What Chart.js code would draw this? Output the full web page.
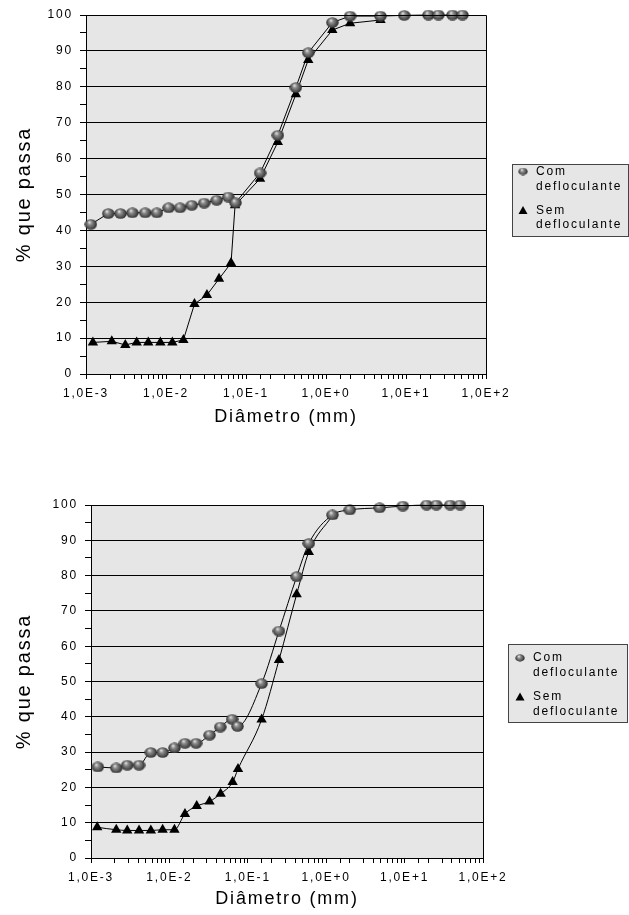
<!DOCTYPE html>
<html>
<head>
<meta charset="utf-8">
<script src="https://cdn.jsdelivr.net/npm/chart.js@4.4.1/dist/chart.umd.min.js"></script>
<style>
body { margin: 0; background: #fff; width: 629px; height: 915px; position: relative; overflow: hidden; }
canvas { position: absolute; left: 0; }
#c1 { top: 0; }
#c2 { top: 455px; }
</style>
</head>
<body>
<canvas id="c1" width="629" height="430"></canvas>
<canvas id="c2" width="629" height="460"></canvas>
<script>
// sample 1 (top chart)
const diamCom1 = [0.00115, 0.0019, 0.0027, 0.0038, 0.0055, 0.0077, 0.0108, 0.015, 0.021, 0.030, 0.043, 0.060, 0.074, 0.15, 0.25, 0.42, 0.6, 1.2, 2.0, 4.8, 9.5, 19.1, 25.4, 38.1, 50.8];
const pctCom1 = [41.7, 44.7, 44.7, 44.9, 44.9, 44.9, 46.3, 46.3, 47.0, 47.6, 48.4, 49.3, 47.7, 56.0, 66.5, 79.8, 89.5, 97.9, 99.7, 99.7, 99.9, 100, 100, 100, 100];
const diamSem1 = [0.00122, 0.0021, 0.0031, 0.0043, 0.006, 0.0085, 0.012, 0.0165, 0.0227, 0.0325, 0.046, 0.065, 0.073, 0.15, 0.25, 0.42, 0.6, 1.2, 2.0, 4.8];
const pctSem1 = [8.8, 9.1, 8.1, 8.8, 8.8, 8.8, 8.8, 9.5, 19.5, 22.0, 26.5, 30.9, 47.0, 54.4, 64.6, 77.9, 87.5, 95.8, 97.7, 98.6];

// sample 2 (bottom chart)
const diamCom2 = [0.00122, 0.0021, 0.0029, 0.0041, 0.0058, 0.0082, 0.0116, 0.0158, 0.0219, 0.0325, 0.0446, 0.063, 0.074, 0.15, 0.25, 0.42, 0.6, 1.2, 2.0, 4.8, 9.5, 19.1, 25.4, 38.1, 50.8];
const pctCom2 = [25.8, 25.5, 26.3, 26.3, 29.9, 29.9, 31.2, 32.5, 32.5, 34.8, 37.1, 39.3, 37.3, 49.4, 64.3, 79.7, 89.1, 97.2, 98.6, 99.2, 99.7, 100, 100, 100, 100];
const diamSem2 = [0.0012, 0.0021, 0.0029, 0.0041, 0.0058, 0.0082, 0.0116, 0.0158, 0.0223, 0.0325, 0.045, 0.064, 0.075, 0.15, 0.25, 0.42, 0.6, 1.2];
const pctSem2 = [8.7, 8.0, 7.8, 7.8, 7.8, 8.0, 8.0, 12.5, 14.7, 16.0, 18.2, 21.5, 25.2, 39.2, 56.1, 74.7, 86.7, 97.0];

const seriesNames = ['Com defloculante', 'Sem defloculante'];
const xTitle = 'Diâmetro (mm)';
const yTitle = '% que passa';

const FONT = "'Liberation Sans', Arial, Helvetica, sans-serif";

// little shaded ball used as point marker
function makeSphere(w, h) {
    const c = document.createElement('canvas');
    c.width = w; c.height = h;
    const g = c.getContext('2d');
    const grad = g.createRadialGradient(w * 0.38, h * 0.3, 0.3, w / 2, h / 2, w / 2);
    grad.addColorStop(0, '#e0e0e0');
    grad.addColorStop(0.3, '#8a8a8a');
    grad.addColorStop(0.7, '#4e4e4e');
    grad.addColorStop(1, '#1e1e1e');
    g.fillStyle = grad;
    g.beginPath();
    g.ellipse(w / 2, h / 2, w / 2 - 0.3, h / 2 - 0.3, 0, 0, Math.PI * 2);
    g.fill();
    return c;
}
const sphere = makeSphere(13, 11);
const sphereSmall = makeSphere(10, 8);

function pts(xs, ys) {
    return xs.map((x, i) => ({ x: x, y: ys[i] }));
}

function sciLabel(v) {
    const l = Math.log10(v);
    const e = Math.round(l);
    if (Math.abs(l - e) > 1e-6) return '';
    return '1,0E' + (e >= 0 ? '+' : '-') + Math.abs(e);
}

const framePlugin = {
    id: 'frame',
    beforeDraw(chart) {
        const ctx = chart.ctx, a = chart.chartArea;
        ctx.letterSpacing = '1.8px';
        ctx.save();
        ctx.fillStyle = '#e6e6e6';
        ctx.fillRect(a.left, a.top, a.right - a.left, a.bottom - a.top);
        ctx.restore();
    },
    afterDraw(chart, args, opts) {
        const ctx = chart.ctx, a = chart.chartArea;
        ctx.save();
        ctx.strokeStyle = '#000';
        ctx.lineWidth = 1;
        ctx.beginPath();
        ctx.moveTo(a.left, Math.round(a.top) + 0.5);
        ctx.lineTo(Math.round(a.right) + 0.5, Math.round(a.top) + 0.5);
        ctx.lineTo(Math.round(a.right) + 0.5, a.bottom);
        ctx.stroke();

        // legend box
        const L = opts.legend;
        ctx.fillStyle = '#e6e6e6';
        ctx.fillRect(L.x, L.y, L.w, L.h);
        ctx.strokeStyle = '#444';
        ctx.strokeRect(L.x + 0.5, L.y + 0.5, L.w - 1, L.h - 1);
        ctx.font = '12px ' + FONT;
        ctx.fillStyle = '#000';
        ctx.textAlign = 'left';
        ctx.textBaseline = 'middle';
        seriesNames.forEach((name, i) => {
            const sp = name.indexOf(' ');
            ctx.fillText(name.slice(0, sp), L.tx, L.rows[i * 2]);
            ctx.fillText(name.slice(sp + 1), L.tx, L.rows[i * 2 + 1]);
        });
        ctx.drawImage(sphereSmall, L.mx - 5, L.rows[0] - 4);
        const ty = L.rows[2];
        ctx.beginPath();
        ctx.moveTo(L.mx, ty - 4.5);
        ctx.lineTo(L.mx + 4.5, ty + 3.5);
        ctx.lineTo(L.mx - 4.5, ty + 3.5);
        ctx.closePath();
        ctx.fill();
        ctx.restore();
    }
};

function makeChart(id, cfg) {
    return new Chart(document.getElementById(id), {
        type: 'line',
        data: {
            datasets: [{
                label: seriesNames[0],
                data: pts(cfg.dCom, cfg.pCom),
                borderColor: '#000',
                borderWidth: 1,
                pointStyle: sphere,
                pointRadius: 6,
                clip: false,
                cubicInterpolationMode: cfg.smooth ? 'monotone' : 'default'
            }, {
                label: seriesNames[1],
                data: pts(cfg.dSem, cfg.pSem),
                borderColor: '#000',
                backgroundColor: '#000',
                borderWidth: 1,
                pointStyle: 'triangle',
                pointRadius: 6,
                pointBorderWidth: 0,
                clip: false,
                cubicInterpolationMode: cfg.smooth ? 'monotone' : 'default'
            }]
        },
        options: {
            responsive: false,
            animation: false,
            layout: { padding: { top: cfg.top, right: 629 - cfg.right, bottom: 0, left: 0 } },
            plugins: {
                legend: { display: false },
                tooltip: { enabled: false },
                frame: { legend: cfg.legend }
            },
            scales: {
                x: {
                    type: 'logarithmic',
                    min: 0.001,
                    max: 100,
                    afterFit: s => { s.height = cfg.xh; },
                    border: { display: true, color: '#000', width: 1 },
                    grid: { drawOnChartArea: false, drawTicks: true, tickLength: 5, tickColor: '#000' },
                    ticks: {
                        autoSkip: false, maxRotation: 0, minRotation: 0, padding: 7,
                        color: '#000', font: { family: FONT, size: 12 },
                        callback: v => sciLabel(v)
                    },
                    title: {
                        display: true, text: xTitle, color: '#000',
                        font: { family: FONT, size: 18 },
                        padding: { top: 0, bottom: cfg.titlePad }
                    }
                },
                y: {
                    min: 0,
                    max: 100,
                    afterFit: s => { s.width = cfg.left; },
                    border: { display: true, color: '#000', width: 1 },
                    grid: {
                        color: c => (c.tick && c.tick.value % 10 === 0 && c.tick.value > 0) ? '#000' : 'rgba(0,0,0,0)',
                        tickColor: '#000', tickLength: 6, lineWidth: 1
                    },
                    ticks: {
                        stepSize: 5, padding: 7, color: '#000', autoSkip: false,
                        font: { family: FONT, size: 12 },
                        callback: v => (v % 10 === 0 ? String(v) : '')
                    },
                    title: {
                        display: true, text: yTitle, color: '#000',
                        font: { family: FONT, size: 20 },
                        padding: { top: 12, bottom: 0 }
                    }
                }
            }
        },
        plugins: [framePlugin]
    });
}

makeChart('c1', {
    dCom: diamCom1, pCom: pctCom1, dSem: diamSem1, pSem: pctSem1,
    top: 15, left: 86, right: 486, xh: 56, titlePad: 2, smooth: false,
    legend: { x: 512, y: 164, w: 117, h: 73, mx: 523, tx: 536, rows: [171.5, 186.5, 210.5, 225] }
});

makeChart('c2', {
    dCom: diamCom2, pCom: pctCom2, dSem: diamSem2, pSem: pctSem2,
    top: 50, left: 91, right: 483, xh: 57, titlePad: 5, smooth: true,
    legend: { x: 508, y: 189, w: 120, h: 79, mx: 520, tx: 533, rows: [203, 218, 242, 257] }
});
</script>
</body>
</html>
